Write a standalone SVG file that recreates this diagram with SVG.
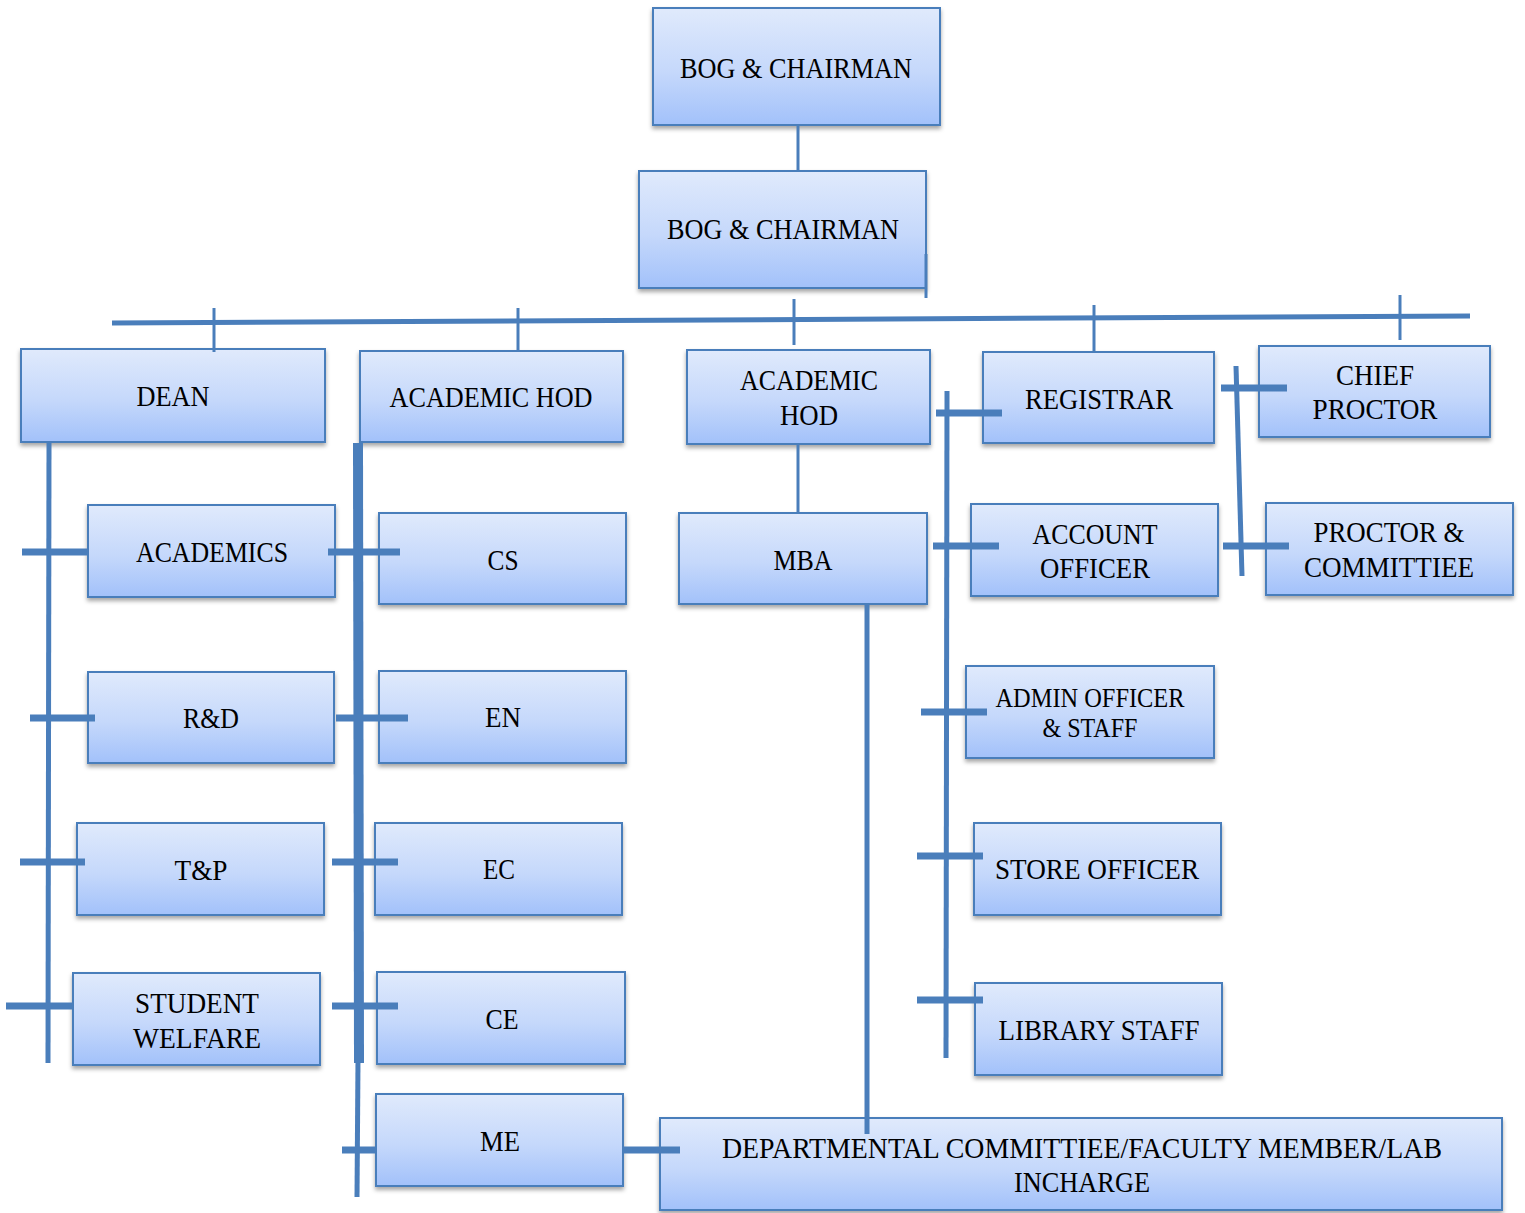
<svg xmlns="http://www.w3.org/2000/svg" width="1525" height="1213" viewBox="0 0 1525 1213">
<defs>
<linearGradient id="g" x1="0" y1="0" x2="0" y2="1">
<stop offset="0" stop-color="#e0eafc"/>
<stop offset="0.55" stop-color="#c5d8fb"/>
<stop offset="1" stop-color="#a2c1fa"/>
</linearGradient>
<filter id="sh" x="-5%" y="-10%" width="110%" height="130%">
<feDropShadow dx="0" dy="3" stdDeviation="2" flood-color="#000" flood-opacity="0.35"/>
</filter>
</defs>
<style>
.box{fill:url(#g);stroke:#4a7ebb;stroke-width:2;filter:url(#sh)}
text{font-family:"Liberation Serif","Times New Roman",serif;font-size:30px;fill:#000;text-anchor:middle}
.sm{font-size:28px}
.c line{stroke:#4a7ebb;fill:none}
.t3{stroke-width:3}
.t5{stroke-width:5}
.t7{stroke-width:7}
.t10{stroke-width:10}
</style>
<rect width="1525" height="1213" fill="#fff"/>
<g id="bog1"><rect class="box" x="653" y="8" width="287" height="117"/><text x="796" y="78" textLength="232" lengthAdjust="spacingAndGlyphs">BOG &amp; CHAIRMAN</text></g>
<g id="bog2"><rect class="box" x="639" y="171" width="287" height="117"/><text x="783" y="239" textLength="232" lengthAdjust="spacingAndGlyphs">BOG &amp; CHAIRMAN</text></g>
<g id="dean"><rect class="box" x="21" y="349" width="304" height="93"/><text x="173" y="406" textLength="73" lengthAdjust="spacingAndGlyphs">DEAN</text></g>
<g id="acadhod1"><rect class="box" x="360" y="351" width="263" height="91"/><text x="491" y="407" textLength="203" lengthAdjust="spacingAndGlyphs">ACADEMIC HOD</text></g>
<g id="acadhod2"><rect class="box" x="687" y="350" width="243" height="94"/><text x="809" y="390" textLength="138" lengthAdjust="spacingAndGlyphs">ACADEMIC</text><text x="809" y="425" textLength="58" lengthAdjust="spacingAndGlyphs">HOD</text></g>
<g id="registrar"><rect class="box" x="983" y="352" width="231" height="91"/><text x="1099" y="409" textLength="148" lengthAdjust="spacingAndGlyphs">REGISTRAR</text></g>
<g id="chiefproctor"><rect class="box" x="1259" y="346" width="231" height="91"/><text x="1375" y="385" textLength="78" lengthAdjust="spacingAndGlyphs">CHIEF</text><text x="1375" y="419" textLength="125" lengthAdjust="spacingAndGlyphs">PROCTOR</text></g>
<g id="academics"><rect class="box" x="88" y="505" width="247" height="92"/><text x="212" y="562" textLength="152" lengthAdjust="spacingAndGlyphs">ACADEMICS</text></g>
<g id="cs"><rect class="box" x="379" y="513" width="247" height="91"/><text x="503" y="570" textLength="31" lengthAdjust="spacingAndGlyphs">CS</text></g>
<g id="mba"><rect class="box" x="679" y="513" width="248" height="91"/><text x="803" y="570" textLength="59" lengthAdjust="spacingAndGlyphs">MBA</text></g>
<g id="accountofficer"><rect class="box" x="971" y="504" width="247" height="92"/><text x="1095" y="544" textLength="125" lengthAdjust="spacingAndGlyphs">ACCOUNT</text><text x="1095" y="578" textLength="110" lengthAdjust="spacingAndGlyphs">OFFICER</text></g>
<g id="proctorcommittiee"><rect class="box" x="1266" y="503" width="247" height="92"/><text x="1389" y="542" textLength="151" lengthAdjust="spacingAndGlyphs">PROCTOR &amp;</text><text x="1389" y="577" textLength="170" lengthAdjust="spacingAndGlyphs">COMMITTIEE</text></g>
<g id="rd"><rect class="box" x="88" y="672" width="246" height="91"/><text x="211" y="728" textLength="56" lengthAdjust="spacingAndGlyphs">R&amp;D</text></g>
<g id="en"><rect class="box" x="379" y="671" width="247" height="92"/><text x="503" y="727" textLength="36" lengthAdjust="spacingAndGlyphs">EN</text></g>
<g id="adminofficer"><rect class="box" x="966" y="666" width="248" height="92"/><text class="sm" x="1090" y="707" textLength="189" lengthAdjust="spacingAndGlyphs">ADMIN OFFICER</text><text class="sm" x="1090" y="737" textLength="95" lengthAdjust="spacingAndGlyphs">&amp; STAFF</text></g>
<g id="tp"><rect class="box" x="77" y="823" width="247" height="92"/><text x="201" y="880" textLength="53" lengthAdjust="spacingAndGlyphs">T&amp;P</text></g>
<g id="ec"><rect class="box" x="375" y="823" width="247" height="92"/><text x="499" y="879" textLength="32" lengthAdjust="spacingAndGlyphs">EC</text></g>
<g id="storeofficer"><rect class="box" x="974" y="823" width="247" height="92"/><text x="1097" y="879" textLength="204" lengthAdjust="spacingAndGlyphs">STORE OFFICER</text></g>
<g id="studentwelfare"><rect class="box" x="73" y="973" width="247" height="92"/><text x="197" y="1013" textLength="124" lengthAdjust="spacingAndGlyphs">STUDENT</text><text x="197" y="1048" textLength="128" lengthAdjust="spacingAndGlyphs">WELFARE</text></g>
<g id="ce"><rect class="box" x="377" y="972" width="248" height="92"/><text x="502" y="1029" textLength="33" lengthAdjust="spacingAndGlyphs">CE</text></g>
<g id="librarystaff"><rect class="box" x="975" y="983" width="247" height="92"/><text x="1099" y="1040" textLength="201" lengthAdjust="spacingAndGlyphs">LIBRARY STAFF</text></g>
<g id="me"><rect class="box" x="376" y="1094" width="247" height="92"/><text x="500" y="1151" textLength="40" lengthAdjust="spacingAndGlyphs">ME</text></g>
<g id="departmental"><rect class="box" x="660" y="1118" width="842" height="92"/><text x="1082" y="1158" textLength="720" lengthAdjust="spacingAndGlyphs">DEPARTMENTAL COMMITTIEE/FACULTY MEMBER/LAB</text><text x="1082" y="1192" textLength="136" lengthAdjust="spacingAndGlyphs">INCHARGE</text></g>
<g id="connectors" class="c">
<line class="t3" x1="798" y1="126" x2="798" y2="170"/>
<line class="t3" x1="926" y1="254" x2="926" y2="298"/>
<line class="t5" x1="112" y1="323" x2="1470" y2="316"/>
<line class="t3" x1="214" y1="308" x2="214" y2="352"/>
<line class="t3" x1="518" y1="308" x2="518" y2="352"/>
<line class="t3" x1="794" y1="299" x2="794" y2="345"/>
<line class="t3" x1="1094" y1="305" x2="1094" y2="351"/>
<line class="t3" x1="1400" y1="295" x2="1400" y2="340"/>
<line class="t5" x1="49" y1="443" x2="48" y2="1063"/>
<line class="t7" x1="22" y1="552" x2="88" y2="552"/>
<line class="t7" x1="30" y1="718" x2="95" y2="718"/>
<line class="t7" x1="20" y1="862" x2="85" y2="862"/>
<line class="t7" x1="6" y1="1006" x2="72" y2="1006"/>
<line class="t10" x1="358" y1="443" x2="359" y2="1063"/>
<line class="t5" x1="358" y1="1060" x2="357" y2="1197"/>
<line class="t7" x1="328" y1="552" x2="400" y2="552"/>
<line class="t7" x1="336" y1="718" x2="408" y2="718"/>
<line class="t7" x1="332" y1="862" x2="398" y2="862"/>
<line class="t7" x1="332" y1="1006" x2="398" y2="1006"/>
<line class="t7" x1="342" y1="1150" x2="376" y2="1150"/>
<line class="t7" x1="623" y1="1150" x2="680" y2="1150"/>
<line class="t3" x1="798" y1="445" x2="798" y2="512"/>
<line class="t5" x1="867" y1="605" x2="867" y2="1134"/>
<line class="t5" x1="947" y1="391" x2="946" y2="1058"/>
<line class="t7" x1="936" y1="413" x2="1002" y2="413"/>
<line class="t7" x1="933" y1="546" x2="999" y2="546"/>
<line class="t7" x1="921" y1="712" x2="987" y2="712"/>
<line class="t7" x1="917" y1="856" x2="983" y2="856"/>
<line class="t7" x1="917" y1="1000" x2="983" y2="1000"/>
<line class="t5" x1="1236" y1="366" x2="1242" y2="576"/>
<line class="t7" x1="1221" y1="388" x2="1287" y2="388"/>
<line class="t7" x1="1223" y1="546" x2="1289" y2="546"/>
</g>
</svg>
